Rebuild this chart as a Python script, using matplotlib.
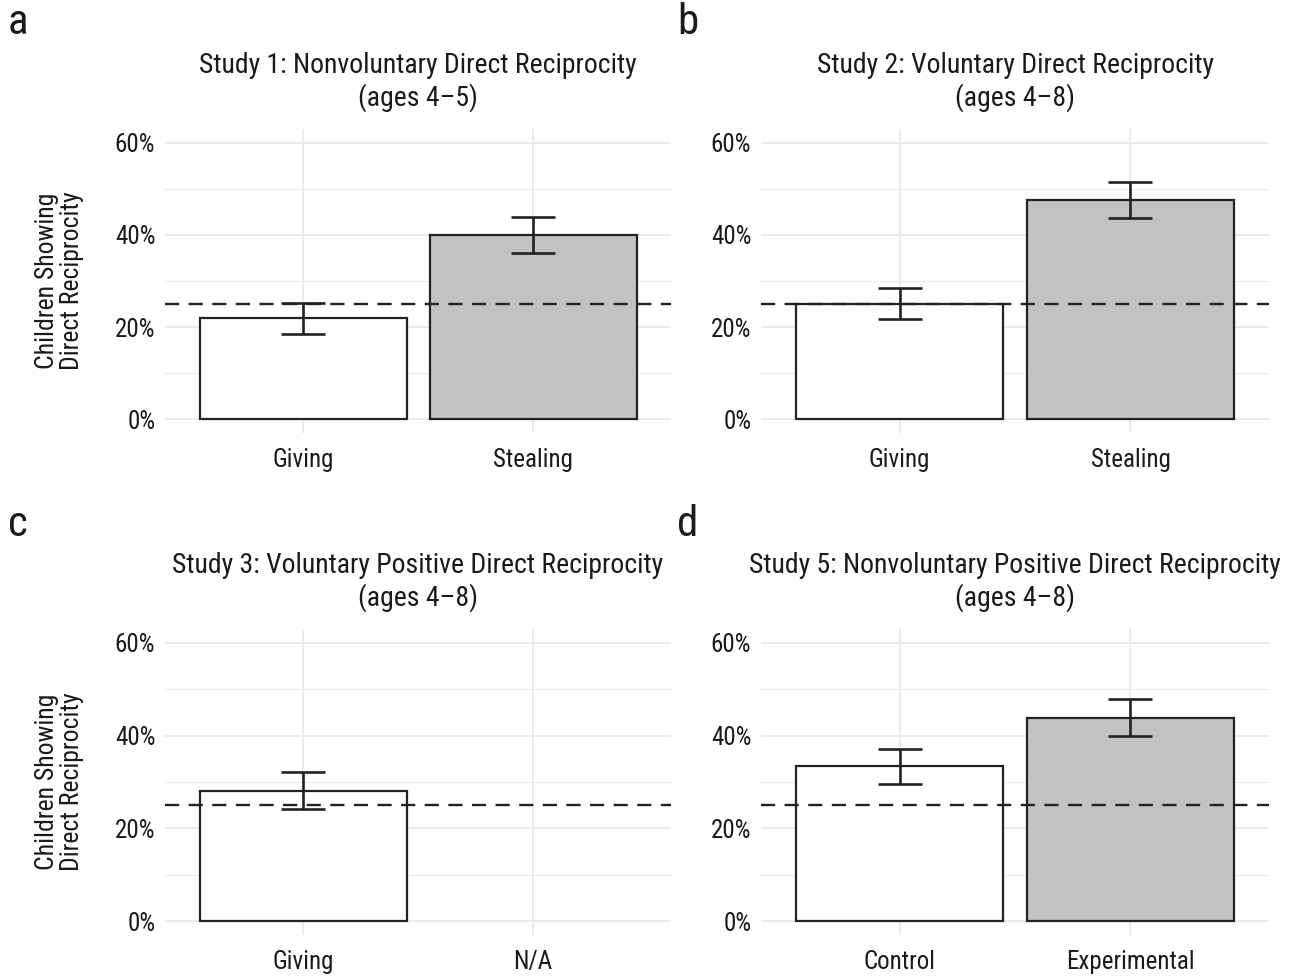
import matplotlib
matplotlib.use("Agg")
import matplotlib.pyplot as plt
from matplotlib import font_manager as fm
import numpy as np

# ---- data ----
panel_letters = ["a", "b", "c", "d"]
titles = [
    "Study 1: Nonvoluntary Direct Reciprocity\n(ages 4\u20135)",
    "Study 2: Voluntary Direct Reciprocity\n(ages 4\u20138)",
    "Study 3: Voluntary Positive Direct Reciprocity\n(ages 4\u20138)",
    "Study 5: Nonvoluntary Positive Direct Reciprocity\n(ages 4\u20138)",
]
categories_a = ["Giving", "Stealing"]
categories_b = ["Giving", "Stealing"]
categories_c = ["Giving", "N/A"]
categories_d = ["Control", "Experimental"]
values_a = [21.9, 40.0]
values_b = [25.1, 47.5]
values_c = [28.1, None]
values_d = [33.4, 43.9]
errors_a = [3.3, 3.9]
errors_b = [3.4, 3.9]
errors_c = [4.0, None]
errors_d = [3.75, 4.0]
chance_level = 25
y_ticks = [0, 20, 40, 60]
y_minor = [10, 30, 50]
y_label = "Children Showing\nDirect Reciprocity"

# ---- font ----
avail = {f.name for f in fm.fontManager.ttflist}
family = "DejaVu Sans"
for cand in ["Liberation Sans Narrow", "Roboto Condensed", "Open Sans Condensed", "Arial Narrow", "Roboto", "Liberation Sans"]:
    if cand in avail:
        family = cand
        break
plt.rcParams["font.family"] = [family, "DejaVu Sans"]

W, H = 1291, 977
fig = plt.figure(figsize=(W / 100, H / 100), dpi=100)

def px_rect(x0, x1, ytop, ybot):
    return [x0 / W, 1 - ybot / H, (x1 - x0) / W, (ybot - ytop) / H]

rects = [
    px_rect(165, 671, 129, 433),
    px_rect(761, 1269, 129, 433),
    px_rect(165, 671, 629, 935),
    px_rect(761, 1269, 629, 935),
]
letter_pos = [(8, 22), (677, 22), (8, 524), (677, 524)]
panels = [
    (categories_a, values_a, errors_a),
    (categories_b, values_b, errors_b),
    (categories_c, values_c, errors_c),
    (categories_d, values_d, errors_d),
]
fills = ["white", "#C1C2C4"]
text_color = "#1a1a1a"
grid_color = "#EBEBEB"

for i, (cats, vals, errs) in enumerate(panels):
    ax = fig.add_axes(rects[i])
    x = np.arange(1, len(cats) + 1)
    ax.set_xlim(0.4, len(cats) + 0.6)
    ax.set_ylim(-3, 63)
    for s in ax.spines.values():
        s.set_visible(False)
    ax.set_yticks(y_ticks)
    ax.set_yticks(y_minor, minor=True)
    ax.set_yticklabels([f"{t}%" for t in y_ticks])
    ax.set_xticks(x)
    ax.set_xticklabels(cats)
    ax.tick_params(which="both", length=0)
    ax.tick_params(axis="y", pad=7, labelsize=18, labelcolor=text_color)
    ax.tick_params(axis="x", pad=11, labelsize=18, labelcolor=text_color)
    ax.grid(True, which="major", color=grid_color, lw=1.4)
    ax.grid(True, which="minor", axis="y", color=grid_color, lw=0.8)
    ax.set_axisbelow(True)
    for j, (v, e) in enumerate(zip(vals, errs)):
        if v is None:
            continue
        ax.bar(x[j], v, width=0.9, color=fills[j], edgecolor="#222222", lw=1.6, zorder=2)
        ax.errorbar(x[j], v, yerr=e, fmt="none", ecolor="#222222", elinewidth=1.9,
                    capsize=16, capthick=1.9, zorder=3)
    ax.axhline(chance_level, color="#222222", lw=1.7, ls=(0, (6, 4)), zorder=4)
    if i in (0, 2):
        ax.set_ylabel(y_label, fontsize=18.5, color=text_color, labelpad=22, linespacing=1.05)
    r = rects[i]
    top_px = (1 - (r[1] + r[3])) * H
    fig.text(r[0] + r[2] / 2, 1 - (top_px - 17) / H, titles[i], ha="center", va="bottom",
             fontsize=20, color=text_color, linespacing=1.2)
    lx, ly = letter_pos[i]
    fig.text(lx / W, 1 - ly / H, panel_letters[i], ha="left", va="center", fontsize=31, color=text_color)

fig.savefig("out.png", dpi=100, facecolor="white")
